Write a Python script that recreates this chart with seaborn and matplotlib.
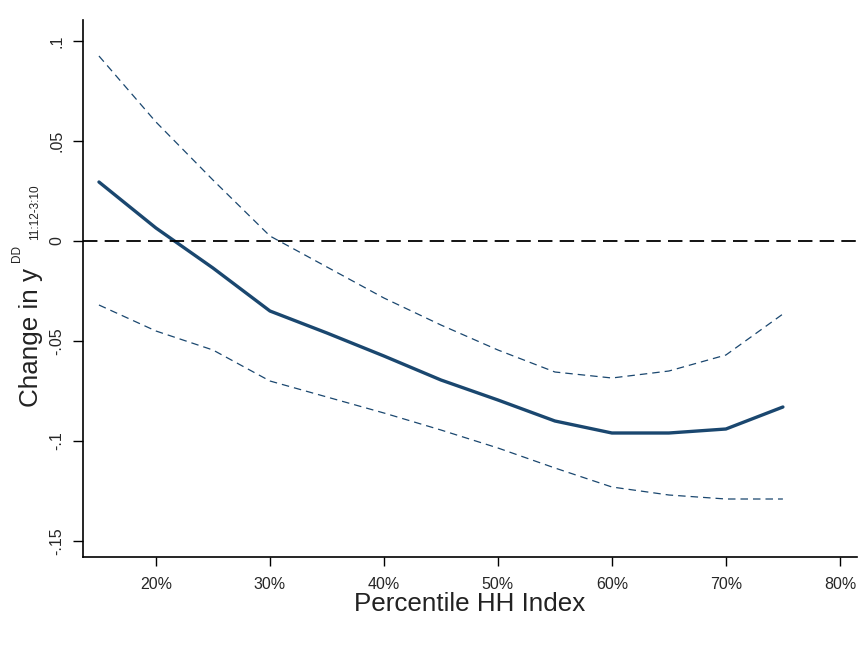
import numpy as np
import pandas as pd
import matplotlib
matplotlib.use("Agg")
import matplotlib.pyplot as plt
import seaborn as sns

pct = [15, 20, 25, 30, 35, 40, 45, 50, 55, 60, 65, 70, 75]
estimate = [0.0295, 0.0065, -0.0135, -0.035, -0.046, -0.0575, -0.0695, -0.0795, -0.09, -0.096, -0.096, -0.094, -0.083]
upper = [0.0925, 0.0595, 0.0305, 0.0025, -0.013, -0.0285, -0.042, -0.0545, -0.0655, -0.0685, -0.065, -0.057, -0.0365]
lower = [-0.032, -0.045, -0.0545, -0.07, -0.078, -0.086, -0.0945, -0.1035, -0.1135, -0.123, -0.127, -0.129, -0.129]
xticks = [20, 30, 40, 50, 60, 70, 80]
xticklabels = ["20%", "30%", "40%", "50%", "60%", "70%", "80%"]
yticks = [-0.15, -0.1, -0.05, 0, 0.05, 0.1]
yticklabels = ["-.15", "-.1", "-.05", "0", ".05", ".1"]

df = pd.DataFrame({"pct": pct, "estimate": estimate, "upper": upper, "lower": lower})

sns.set_style("white")
plt.rcParams["font.family"] = ["Liberation Sans", "DejaVu Sans"]

W, H = 867, 646
fig = plt.figure(figsize=(W / 100, H / 100), dpi=100)
ax = fig.add_axes([83 / W, 1 - 557 / H, (857 - 83) / W, (557 - 20) / H])

navy = "#1a476f"
sns.lineplot(data=df, x="pct", y="estimate", ax=ax, color=navy, linewidth=2.4)
sns.lineplot(data=df, x="pct", y="upper", ax=ax, color=navy, linewidth=0.9, linestyle=(0, (6, 4)))
sns.lineplot(data=df, x="pct", y="lower", ax=ax, color=navy, linewidth=0.9, linestyle=(0, (6, 4)))
ax.axhline(0, color="black", linewidth=1.3, linestyle=(0, (8, 4)))

ax.set_xlim(13.6, 81.5)
ax.set_ylim(-0.158, 0.1105)
ax.set_xticks(xticks)
ax.set_xticklabels(xticklabels, fontsize=11.5)
ax.set_yticks(yticks)
ax.set_yticklabels(yticklabels, fontsize=11.5, rotation=90, va="center")
ax.tick_params(axis="x", direction="out", length=6.5, width=1, color="black", bottom=True, pad=8)
ax.tick_params(axis="y", direction="out", length=7, width=1, color="black", left=True, pad=6.5)
for s in ["top", "right"]:
    ax.spines[s].set_visible(False)
for s in ["left", "bottom"]:
    ax.spines[s].set_color("black")
    ax.spines[s].set_linewidth(1.2)

ax.set_xlabel("Percentile HH Index", fontsize=18.7, labelpad=0, color="#222222")
ax.set_ylabel("")

# y-axis title composed of main text, superscript and subscript
def fx(px):
    return px / W

def fy(py):
    return 1 - py / H

fig.text(fx(31), fy(407), "Change in y", rotation=90, fontsize=18.7, ha="center", va="bottom", color="#222222")
fig.text(fx(17), fy(262), "DD", rotation=90, fontsize=8.5, ha="center", va="bottom", color="#222222")
fig.text(fx(35), fy(240), "11:12-3:10", rotation=90, fontsize=8.5, ha="center", va="bottom", color="#222222")

fig.savefig("out.png", dpi=100, facecolor="white")
